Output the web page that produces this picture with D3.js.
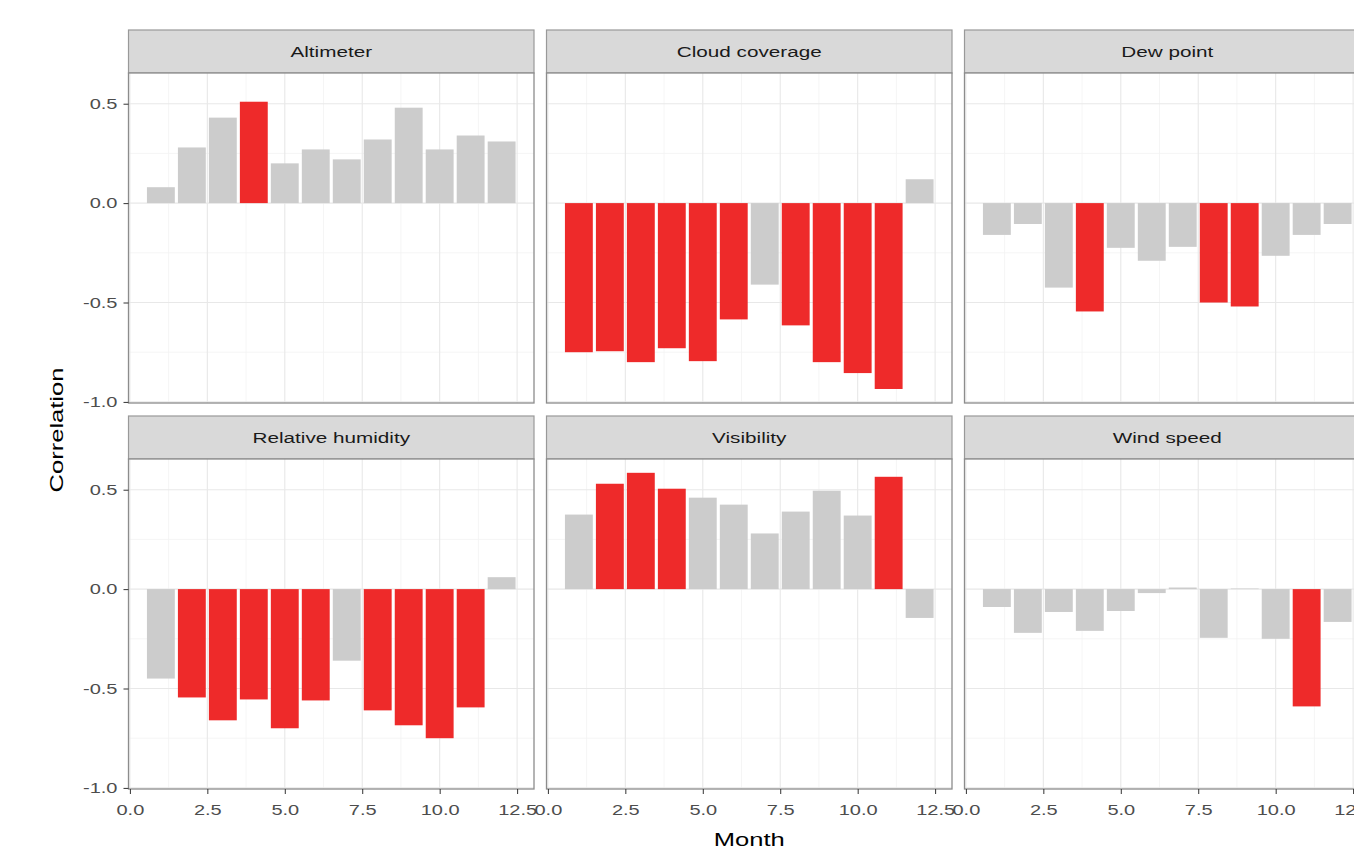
<!DOCTYPE html>
<html>
<head>
<meta charset="utf-8">
<script src="https://cdn.jsdelivr.net/npm/d3@7"></script>
<style>
  body { margin: 0; background: #fff; }
  svg { display: block; font-family: "Liberation Sans", Arial, sans-serif; }
  .tick text { fill: #4d4d4d; font-size: 14.5px; }
  .tick line { stroke: #333; }
  .domain { display: none; }
</style>
</head>
<body>
<svg id="chart" width="1354" height="854"></svg>
<script>
// months on the x axis
var months = [1, 2, 3, 4, 5, 6, 7, 8, 9, 10, 11, 12];

// facet titles, in facet_wrap order
var facets = ["Altimeter", "Cloud coverage", "Dew point", "Relative humidity", "Visibility", "Wind speed"];

// correlation per month, one array per facet
var altimeter   = [0.08, 0.28, 0.43, 0.51, 0.20, 0.27, 0.22, 0.32, 0.48, 0.27, 0.34, 0.31];
var cloud       = [-0.75, -0.745, -0.80, -0.73, -0.795, -0.585, -0.41, -0.615, -0.80, -0.855, -0.935, 0.12];
var dewPoint    = [-0.16, -0.105, -0.425, -0.545, -0.225, -0.29, -0.22, -0.50, -0.52, -0.265, -0.16, -0.105];
var humidity    = [-0.45, -0.545, -0.66, -0.555, -0.70, -0.56, -0.36, -0.61, -0.685, -0.75, -0.595, 0.06];
var visibility  = [0.375, 0.53, 0.585, 0.505, 0.46, 0.425, 0.28, 0.39, 0.495, 0.37, 0.565, -0.145];
var windSpeed   = [-0.09, -0.22, -0.115, -0.21, -0.11, -0.02, 0.008, -0.245, 0.003, -0.25, -0.59, -0.165];

// significant months (drawn red)
var sigAltimeter  = [0, 0, 0, 1, 0, 0, 0, 0, 0, 0, 0, 0];
var sigCloud      = [1, 1, 1, 1, 1, 1, 0, 1, 1, 1, 1, 0];
var sigDewPoint   = [0, 0, 0, 1, 0, 0, 0, 1, 1, 0, 0, 0];
var sigHumidity   = [0, 1, 1, 1, 1, 1, 0, 1, 1, 1, 1, 0];
var sigVisibility = [0, 1, 1, 1, 0, 0, 0, 0, 0, 0, 1, 0];
var sigWindSpeed  = [0, 0, 0, 0, 0, 0, 0, 0, 0, 0, 1, 0];

var yTicks = [-1, -0.5, 0, 0.5];
var xTicks = [0, 2.5, 5, 7.5, 10, 12.5];

var values = [altimeter, cloud, dewPoint, humidity, visibility, windSpeed];
var sig = [sigAltimeter, sigCloud, sigDewPoint, sigHumidity, sigVisibility, sigWindSpeed];

var panelW = 405.5, panelH = 330, gap = 12.5, stripH = 43;
var left0 = 128.5;
var stripTops = [30, 416];
var sx = 1.38; // the lettering in the source is drawn wide

var x = d3.scaleLinear().domain([-0.045, 13.045]).range([0, panelW]);
var y = d3.scaleLinear().domain([-1.0055, 0.6545]).range([panelH, 0]);
var fmt = function (d) { return d3.format(".1f")(d).replace("\u2212", "-"); };

var svg = d3.select("#chart");

facets.forEach(function (name, i) {
    var col = i % 3, row = Math.floor(i / 3);
    var px = left0 + col * (panelW + gap);
    var stripTop = stripTops[row];
    var py = stripTop + stripH;

    // strip
    var strip = svg.append("g").attr("transform", "translate(" + px + "," + stripTop + ")");
    strip.append("rect")
        .attr("width", panelW).attr("height", stripH)
        .attr("fill", "#d9d9d9").attr("stroke", "#999").attr("stroke-width", 1.2);
    strip.append("text")
        .attr("transform", "translate(" + (panelW / 2) + "," + (stripH / 2 + 5) + ") scale(" + sx + ",1)")
        .attr("text-anchor", "middle")
        .attr("font-size", 15).attr("fill", "#1a1a1a")
        .text(name);

    var g = svg.append("g").attr("transform", "translate(" + px + "," + py + ")");
    g.append("rect").attr("width", panelW).attr("height", panelH).attr("fill", "#fff");

    // grid: minor then major
    var xMinor = [1.25, 3.75, 6.25, 8.75, 11.25];
    var yMinor = [-0.75, -0.25, 0.25];
    g.selectAll(".vminor").data(xMinor).enter().append("line")
        .attr("x1", x).attr("x2", x).attr("y1", 0).attr("y2", panelH)
        .attr("stroke", "#f2f2f2").attr("stroke-width", 0.8);
    g.selectAll(".hminor").data(yMinor).enter().append("line")
        .attr("y1", y).attr("y2", y).attr("x1", 0).attr("x2", panelW)
        .attr("stroke", "#f2f2f2").attr("stroke-width", 0.8);
    g.selectAll(".vmajor").data(xTicks).enter().append("line")
        .attr("x1", x).attr("x2", x).attr("y1", 0).attr("y2", panelH)
        .attr("stroke", "#e8e8e8").attr("stroke-width", 1.1);
    g.selectAll(".hmajor").data(yTicks).enter().append("line")
        .attr("y1", y).attr("y2", y).attr("x1", 0).attr("x2", panelW)
        .attr("stroke", "#e8e8e8").attr("stroke-width", 1.1);

    // bars
    var data = months.map(function (m, j) { return { m: m, v: values[i][j], s: sig[i][j] }; });
    g.selectAll(".bar").data(data).enter().append("rect")
        .attr("x", function (d) { return x(d.m - 0.45); })
        .attr("width", function (d) { return x(d.m + 0.45) - x(d.m - 0.45); })
        .attr("y", function (d) { return y(Math.max(0, d.v)); })
        .attr("height", function (d) { return Math.abs(y(d.v) - y(0)); })
        .attr("fill", function (d) { return d.s ? "#ee2a2a" : "#cccccc"; });

    g.append("rect").attr("width", panelW).attr("height", panelH)
        .attr("fill", "none").attr("stroke", "#8c8c8c").attr("stroke-width", 1.3);

    if (col === 0) {
        var ya = g.append("g")
            .call(d3.axisLeft(y).tickValues(yTicks).tickSize(5).tickFormat(fmt));
        ya.selectAll(".tick text")
            .attr("x", null)
            .attr("transform", "translate(-11,0) scale(" + sx + ",1)");
    }
    if (row === 1) {
        var xa = g.append("g").attr("transform", "translate(0," + panelH + ")")
            .call(d3.axisBottom(x).tickValues(xTicks).tickSize(5).tickPadding(11).tickFormat(fmt));
        xa.selectAll(".tick text")
            .attr("transform", "scale(" + sx + ",1)");
    }
});

// axis titles
svg.append("text")
    .attr("transform", "translate(" + (left0 + (3 * panelW + 2 * gap) / 2) + ",846) scale(" + sx + ",1)")
    .attr("text-anchor", "middle").attr("font-size", 18.5).attr("fill", "#000")
    .text("Month");
svg.append("text")
    .attr("transform", "translate(63,430) rotate(-90) scale(" + sx + ",1)")
    .attr("text-anchor", "middle").attr("font-size", 18.5).attr("fill", "#000")
    .text("Correlation");
</script>
</body>
</html>
